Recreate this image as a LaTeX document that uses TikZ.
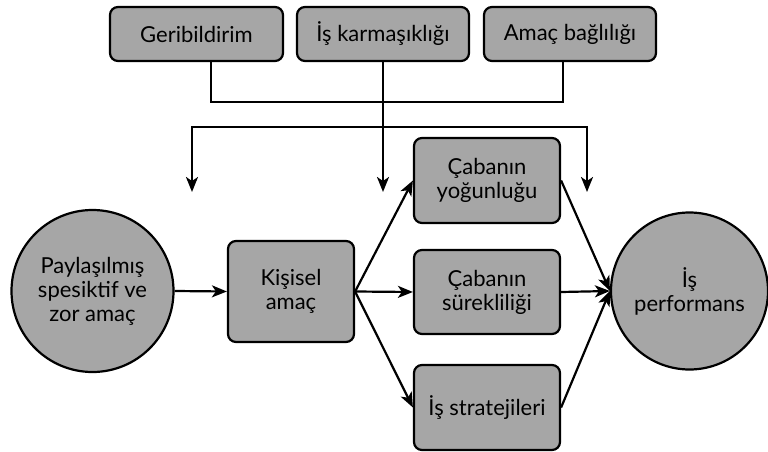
\documentclass[tikz,border=0pt]{standalone}
\usepackage{fontspec}
\setmainfont{Lato}
\usetikzlibrary{arrows.meta}
\definecolor{boxgray}{RGB}{166,166,166}
\begin{document}
\begin{tikzpicture}[x=1pt,y=-1pt,
  every node/.style={font=\fontsize{22}{24}\selectfont, align=center, inner sep=0pt},
  rbox/.style={draw=black, line width=2.2pt, fill=boxgray, rounded corners=8pt},
  cbox/.style={draw=black, line width=2.2pt, fill=boxgray, circle},
  conn/.style={line width=2.2pt},
  arr/.style={line width=2.2pt, -{Stealth[length=15pt,width=12pt,inset=4pt]}},
  arrb/.style={line width=2.2pt, {Stealth[length=15pt,width=12pt,inset=4pt]}-{Stealth[length=15pt,width=12pt,inset=4pt]}}]
\useasboundingbox (0,0) rectangle (768,452);
% top boxes
\node[rbox, minimum width=173pt, minimum height=54pt] (geri) at (196.5,34) {Geribildirim};
\node[rbox, minimum width=172pt, minimum height=54pt] (karm) at (383,34) {İş karmaşıklığı};
\node[rbox, minimum width=172pt, minimum height=54pt] (amac) at (570,34) {Amaç bağlılığı};
% main row
\node[cbox, minimum size=162pt] (pay) at (92.5,291) {Paylaşılmış\\spesiktif ve\\zor amaç};
\node[rbox, minimum width=126pt, minimum height=101pt] (kis) at (291,291.5) {Kişisel\\amaç};
\node[rbox, minimum width=146pt, minimum height=85pt] (yog) at (487,180.5) {Çabanın\\yoğunluğu};
\node[rbox, minimum width=146pt, minimum height=84pt] (sur) at (487,292) {Çabanın\\sürekliliği};
\node[rbox, minimum width=146pt, minimum height=85pt] (str) at (487,407.5) {İş stratejileri};
\node[cbox, minimum size=157pt] (perf) at (689.5,291) {İş\\performans};
% junction coordinates
\coordinate (j1) at (211,102);
\coordinate (j2) at (563,102);
\coordinate (h1) at (192,127);
\coordinate (h2) at (587,127);
\coordinate (t1) at (192,192);
\coordinate (t2) at (383,192);
\coordinate (t3) at (587,192);
% top connectors
\draw[conn] (geri.south -| j1) -- (j1) -- (j2) -- (amac.south -| j2);
\draw[arr] (karm.south) -- (t2);
\draw[arrb] (t1) -- (h1) -- (h2) -- (t3);
% main arrows
\draw[arr] (pay.east) -- (kis.west);
\draw[arr] (kis.east) -- (yog.west);
\draw[arr] (kis.east) -- (sur.west);
\draw[arr] (kis.east) -- (str.west);
\draw[arr] (yog.east) -- (perf.west);
\draw[arr] (sur.east) -- (perf.west);
\draw[arr] (str.east) -- (perf.west);
\end{tikzpicture}
\end{document}
